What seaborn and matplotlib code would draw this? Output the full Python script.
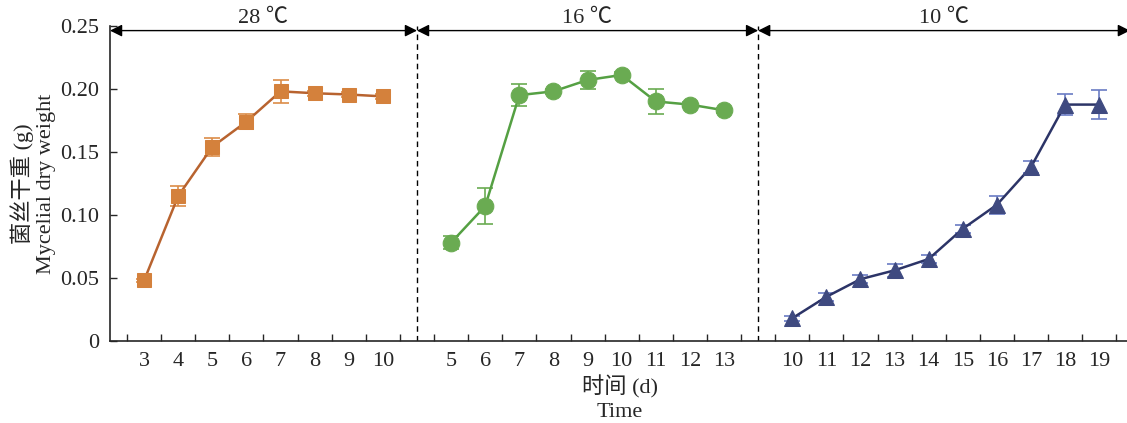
import numpy as np
import pandas as pd
import matplotlib
matplotlib.use("Agg")
import matplotlib.pyplot as plt
import seaborn as sns

sns.set_style("ticks")
plt.rcParams['font.family'] = ['Liberation Serif', 'Noto Sans CJK SC']
plt.rcParams['axes.unicode_minus'] = False

# data
days_28 = [3, 4, 5, 6, 7, 8, 9, 10]
mean_28 = [0.048, 0.115, 0.154, 0.174, 0.198, 0.1965, 0.1955, 0.194]
err_28 = [0.001, 0.008, 0.007, 0.006, 0.009, 0.002, 0.002, 0.002]

days_16 = [5, 6, 7, 8, 9, 10, 11, 12, 13]
mean_16 = [0.078, 0.107, 0.195, 0.198, 0.207, 0.211, 0.190, 0.1875, 0.183]
err_16 = [0.005, 0.014, 0.0085, 0.002, 0.007, 0.002, 0.010, 0.002, 0.002]

days_10 = [10, 11, 12, 13, 14, 15, 16, 17, 18, 19]
mean_10 = [0.018, 0.035, 0.049, 0.056, 0.065, 0.089, 0.108, 0.138, 0.1875, 0.1875]
err_10 = [0.002, 0.003, 0.003, 0.005, 0.003, 0.003, 0.007, 0.005, 0.0085, 0.0115]

temps = ["28 ℃", "16 ℃", "10 ℃"]

# build one long table; each temperature gets its own block of x positions
frames = []
start = 1
for t, d, m, e in zip(temps, [days_28, days_16, days_10],
                      [mean_28, mean_16, mean_10], [err_28, err_16, err_10]):
    frames.append(pd.DataFrame({"temp": t, "day": d, "pos": np.arange(len(d)) + start,
                                "weight": m, "err": e}))
    start += len(d) + 1
df = pd.concat(frames, ignore_index=True)

line_cols = {"28 ℃": "#b8632f", "16 ℃": "#55a043", "10 ℃": "#2c3467"}
mark_cols = {"28 ℃": "#d4813c", "16 ℃": "#6aab52", "10 ℃": "#3f4a80"}
err_cols = {"28 ℃": "#dc8c48", "16 ℃": "#6aab52", "10 ℃": "#6a7cc4"}
markers = {"28 ℃": "s", "16 ℃": "o", "10 ℃": "^"}
msize = {"28 ℃": 10.5, "16 ℃": 12, "10 ℃": 12}

fig = plt.figure(figsize=(11.27, 4.23), dpi=100)
ax = fig.add_axes([0.0976, 0.194, 0.905, 0.745])

for t in temps:
    sub = df[df.temp == t]
    ax.errorbar(sub.pos, sub.weight, yerr=sub.err, fmt="none", ecolor=err_cols[t],
                elinewidth=1.2, capsize=6, capthick=1.2, zorder=2)
    sns.lineplot(data=sub, x="pos", y="weight", ax=ax, color=line_cols[t], lw=1.8,
                 marker=markers[t], markersize=msize[t], markerfacecolor=mark_cols[t],
                 markeredgecolor=mark_cols[t], zorder=3, legend=False)

# group boundaries and range arrows
bounds = [0]
for d in [days_28, days_16, days_10]:
    bounds.append(bounds[-1] + len(d) + 1)
xmax = 29.9
for b in bounds[1:-1]:
    ax.axvline(b, color="black", ls=(0, (4, 3)), lw=1)
ends = bounds[:-1] + [xmax]
for i, t in enumerate(temps):
    a, b = ends[i], ends[i + 1]
    ax.annotate("", xy=(a, 0.2462), xytext=(b, 0.2462),
                arrowprops=dict(arrowstyle="<|-|>", color="black", lw=1,
                                mutation_scale=18, shrinkA=0, shrinkB=0))
    ax.text((a + b) / 2, 0.2555, t, ha="center", va="center", fontsize=16)

ax.set_xlim(0, xmax)
ax.set_ylim(0, 0.25)
ax.set_yticks([0, 0.05, 0.10, 0.15, 0.20, 0.25])
ax.set_yticklabels(["0", "0.05", "0.10", "0.15", "0.20", "0.25"])
ax.set_xticks(df.pos)
ax.set_xticklabels(df.day)
ax.set_xticks(np.arange(0.5, 30, 1), minor=True)
ax.tick_params(axis="x", which="major", length=0, labelsize=16, pad=8)
ax.tick_params(axis="x", which="minor", direction="in", length=5, width=1)
ax.tick_params(axis="y", direction="in", length=5, width=1, labelsize=16, pad=8)

ax.set_xlabel("时间 (d)\nTime", fontsize=16, linespacing=1.3, labelpad=3)
ax.set_ylabel("菌丝干重 (g)\nMycelial dry weight", fontsize=16, linespacing=1.2)
ax.yaxis.set_label_coords(-0.053, 0.5)

for s in ["top", "right"]:
    ax.spines[s].set_visible(False)
for s in ["left", "bottom"]:
    ax.spines[s].set_linewidth(1.2)

fig.savefig("out.png", dpi=100)
